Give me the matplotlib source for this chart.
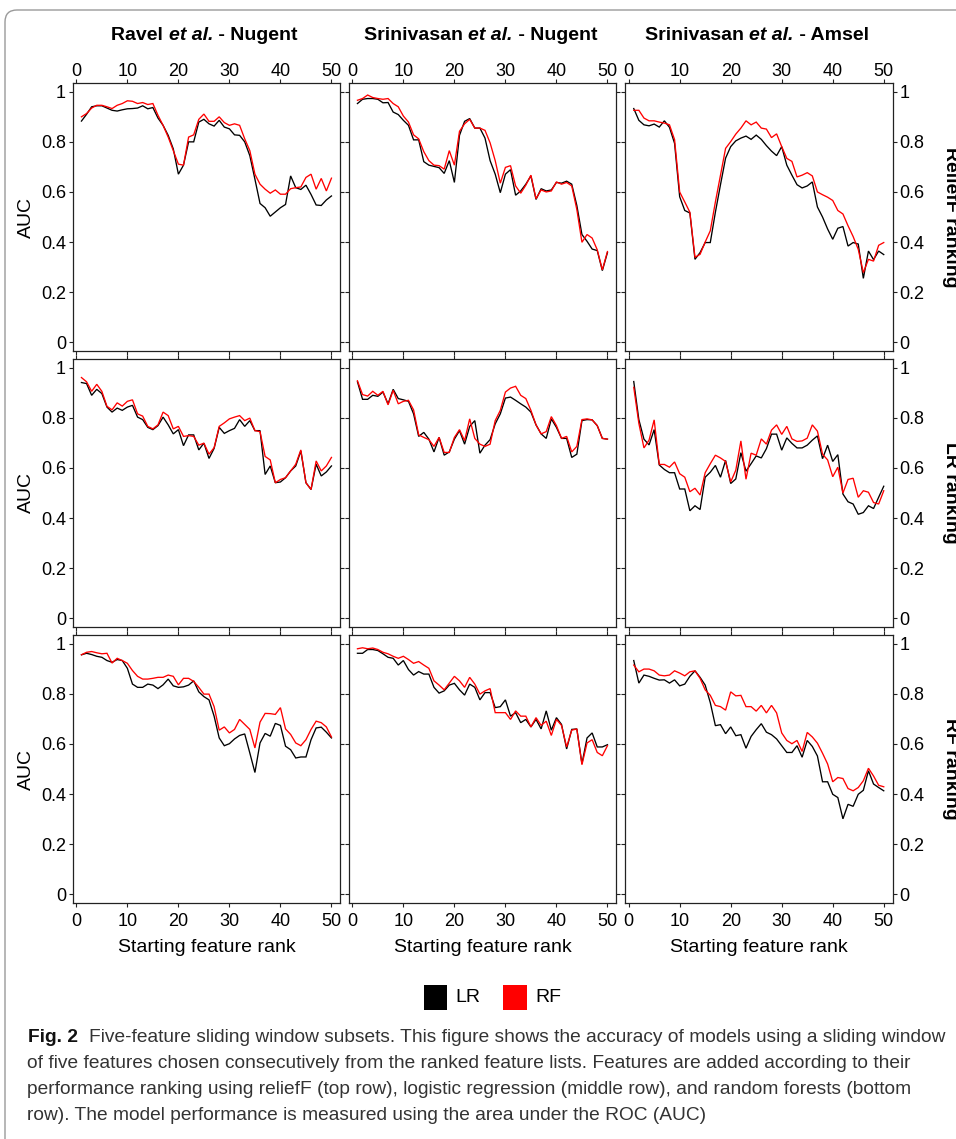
import matplotlib
matplotlib.use("Agg")
import matplotlib.pyplot as plt
from matplotlib.patches import FancyBboxPatch, Rectangle
from matplotlib.transforms import IdentityTransform

plt.rcParams['font.family'] = ['Liberation Sans', 'DejaVu Sans']

W, H, DPI = 956, 1139, 100

# ---------------- data ----------------
rank = list(range(1, 51))
xticks = [0, 10, 20, 30, 40, 50]
yticks = [0, 0.2, 0.4, 0.6, 0.8, 1]
ytick_labels = ["0", "0.2", "0.4", "0.6", "0.8", "1"]
col_titles = [("Ravel ", "et al.", " - Nugent"),
              ("Srinivasan ", "et al.", " - Nugent"),
              ("Srinivasan ", "et al.", " - Amsel")]
row_labels = ["ReliefF ranking", "LR ranking", "RF ranking"]
x_label = "Starting feature rank"
y_label = "AUC"
legend_labels = ["LR", "RF"]
series_colors = ["#000000", "#ff0000"]

# row 1: reliefF ranking
relief_ravel_lr = [0.883, 0.91, 0.94, 0.944, 0.944, 0.935, 0.926, 0.923, 0.928, 0.932,
                   0.933, 0.935, 0.944, 0.932, 0.937, 0.895, 0.866, 0.826, 0.772, 0.671,
                   0.707, 0.80, 0.80, 0.879, 0.89, 0.872, 0.863, 0.886, 0.859, 0.852,
                   0.828, 0.826, 0.80, 0.745, 0.651, 0.554, 0.537, 0.503, 0.52, 0.537,
                   0.55, 0.664, 0.617, 0.61, 0.627, 0.59, 0.548, 0.546, 0.568, 0.584]
relief_ravel_rf = [0.90, 0.913, 0.935, 0.946, 0.946, 0.94, 0.933, 0.946, 0.953, 0.964,
                   0.962, 0.953, 0.957, 0.949, 0.953, 0.906, 0.866, 0.819, 0.765, 0.711,
                   0.707, 0.819, 0.828, 0.89, 0.911, 0.882, 0.882, 0.90, 0.877, 0.866,
                   0.872, 0.866, 0.812, 0.765, 0.671, 0.631, 0.611, 0.595, 0.608, 0.591,
                   0.591, 0.613, 0.617, 0.62, 0.658, 0.671, 0.611, 0.654, 0.604, 0.655]
relief_srini_nugent_lr = [0.953, 0.97, 0.973, 0.973, 0.97, 0.956, 0.957, 0.919, 0.909, 0.886,
                          0.866, 0.808, 0.808, 0.721, 0.707, 0.702, 0.697, 0.674, 0.725, 0.638,
                          0.826, 0.882, 0.893, 0.855, 0.855, 0.815, 0.725, 0.671, 0.597, 0.671,
                          0.689, 0.587, 0.604, 0.631, 0.664, 0.570, 0.613, 0.604, 0.608, 0.638,
                          0.635, 0.643, 0.631, 0.546, 0.43, 0.403, 0.372, 0.366, 0.286, 0.358]
relief_srini_nugent_rf = [0.966, 0.973, 0.987, 0.977, 0.973, 0.97, 0.973, 0.953, 0.94, 0.903,
                          0.879, 0.828, 0.812, 0.761, 0.725, 0.707, 0.705, 0.691, 0.765, 0.707,
                          0.842, 0.872, 0.89, 0.855, 0.855, 0.846, 0.796, 0.725, 0.635, 0.698,
                          0.705, 0.624, 0.595, 0.627, 0.667, 0.573, 0.608, 0.60, 0.604, 0.64,
                          0.631, 0.638, 0.624, 0.53, 0.399, 0.43, 0.416, 0.369, 0.289, 0.362]
relief_srini_amsel_lr = [0.933, 0.886, 0.868, 0.864, 0.871, 0.859, 0.884, 0.858, 0.794, 0.581,
                         0.526, 0.516, 0.331, 0.358, 0.398, 0.398, 0.519, 0.629, 0.735, 0.781,
                         0.804, 0.815, 0.823, 0.81, 0.827, 0.81, 0.785, 0.763, 0.745, 0.781,
                         0.707, 0.667, 0.629, 0.616, 0.624, 0.64, 0.54, 0.50, 0.452, 0.411,
                         0.455, 0.462, 0.384, 0.398, 0.392, 0.255, 0.364, 0.33, 0.364, 0.35]
relief_srini_amsel_rf = [0.926, 0.926, 0.895, 0.884, 0.884, 0.879, 0.875, 0.868, 0.809, 0.60,
                         0.56, 0.519, 0.339, 0.351, 0.40, 0.445, 0.56, 0.667, 0.774, 0.801,
                         0.831, 0.855, 0.884, 0.868, 0.879, 0.855, 0.851, 0.817, 0.832, 0.781,
                         0.734, 0.722, 0.66, 0.667, 0.677, 0.664, 0.60, 0.589, 0.579, 0.566,
                         0.526, 0.512, 0.465, 0.422, 0.371, 0.278, 0.331, 0.324, 0.387, 0.398]

# row 2: LR ranking
lr_ravel_lr = [0.941, 0.937, 0.89, 0.914, 0.897, 0.843, 0.823, 0.839, 0.83, 0.843,
               0.85, 0.803, 0.793, 0.762, 0.753, 0.769, 0.803, 0.772, 0.736, 0.753,
               0.689, 0.732, 0.732, 0.672, 0.699, 0.638, 0.678, 0.762, 0.738, 0.749,
               0.758, 0.793, 0.766, 0.789, 0.749, 0.749, 0.574, 0.608, 0.541, 0.544,
               0.561, 0.588, 0.608, 0.668, 0.541, 0.514, 0.615, 0.568, 0.584, 0.608]
lr_ravel_rf = [0.961, 0.944, 0.906, 0.934, 0.906, 0.846, 0.832, 0.86, 0.847, 0.866,
               0.872, 0.816, 0.807, 0.766, 0.756, 0.772, 0.823, 0.809, 0.756, 0.766,
               0.726, 0.729, 0.726, 0.691, 0.699, 0.655, 0.681, 0.766, 0.78, 0.796,
               0.803, 0.809, 0.789, 0.799, 0.749, 0.745, 0.646, 0.632, 0.541, 0.554,
               0.561, 0.588, 0.615, 0.672, 0.541, 0.514, 0.628, 0.588, 0.608, 0.642]
lr_srini_nugent_lr = [0.944, 0.874, 0.874, 0.89, 0.886, 0.903, 0.856, 0.914, 0.877, 0.872,
                      0.866, 0.816, 0.726, 0.742, 0.715, 0.664, 0.722, 0.651, 0.664, 0.715,
                      0.749, 0.695, 0.766, 0.789, 0.659, 0.691, 0.713, 0.776, 0.816, 0.879,
                      0.883, 0.87, 0.856, 0.843, 0.823, 0.772, 0.736, 0.718, 0.796, 0.762,
                      0.718, 0.718, 0.642, 0.655, 0.789, 0.793, 0.792, 0.769, 0.718, 0.715]
lr_srini_nugent_rf = [0.948, 0.893, 0.887, 0.906, 0.89, 0.906, 0.852, 0.91, 0.856, 0.866,
                      0.87, 0.832, 0.732, 0.722, 0.713, 0.686, 0.722, 0.662, 0.662, 0.722,
                      0.753, 0.709, 0.796, 0.718, 0.695, 0.686, 0.695, 0.789, 0.83, 0.903,
                      0.919, 0.926, 0.89, 0.877, 0.83, 0.772, 0.736, 0.745, 0.805, 0.769,
                      0.718, 0.726, 0.664, 0.686, 0.793, 0.796, 0.792, 0.769, 0.718, 0.715]
lr_srini_amsel_lr = [0.945, 0.793, 0.715, 0.692, 0.753, 0.612, 0.594, 0.581, 0.581, 0.516,
                     0.516, 0.429, 0.449, 0.434, 0.563, 0.583, 0.61, 0.563, 0.63, 0.538,
                     0.556, 0.661, 0.587, 0.617, 0.648, 0.64, 0.677, 0.735, 0.735, 0.671,
                     0.72, 0.698, 0.68, 0.68, 0.691, 0.711, 0.728, 0.637, 0.691, 0.626,
                     0.653, 0.496, 0.465, 0.456, 0.415, 0.422, 0.449, 0.438, 0.483, 0.527]
lr_srini_amsel_rf = [0.922, 0.778, 0.68, 0.711, 0.792, 0.614, 0.614, 0.603, 0.624, 0.577,
                     0.563, 0.505, 0.519, 0.492, 0.581, 0.617, 0.651, 0.64, 0.626, 0.544,
                     0.591, 0.708, 0.555, 0.659, 0.651, 0.716, 0.695, 0.751, 0.772, 0.734,
                     0.766, 0.716, 0.706, 0.708, 0.719, 0.772, 0.747, 0.655, 0.632, 0.565,
                     0.603, 0.50, 0.554, 0.559, 0.483, 0.509, 0.503, 0.462, 0.456, 0.509]

# row 3: RF ranking
rf_ravel_lr = [0.956, 0.962, 0.957, 0.95, 0.946, 0.933, 0.926, 0.937, 0.933, 0.902,
               0.839, 0.826, 0.826, 0.839, 0.835, 0.821, 0.836, 0.859, 0.832, 0.826,
               0.828, 0.835, 0.852, 0.808, 0.789, 0.776, 0.711, 0.624, 0.593, 0.601,
               0.62, 0.634, 0.64, 0.564, 0.486, 0.604, 0.642, 0.631, 0.682, 0.674,
               0.591, 0.577, 0.544, 0.548, 0.548, 0.617, 0.664, 0.667, 0.647, 0.624]
rf_ravel_rf = [0.956, 0.966, 0.969, 0.964, 0.96, 0.962, 0.923, 0.942, 0.933, 0.922,
               0.893, 0.87, 0.859, 0.859, 0.862, 0.866, 0.866, 0.875, 0.87, 0.836,
               0.862, 0.862, 0.85, 0.826, 0.799, 0.799, 0.749, 0.655, 0.668, 0.644,
               0.658, 0.698, 0.678, 0.658, 0.584, 0.687, 0.722, 0.721, 0.718, 0.745,
               0.66, 0.638, 0.604, 0.593, 0.617, 0.658, 0.691, 0.685, 0.668, 0.628]
rf_srini_nugent_lr = [0.962, 0.962, 0.977, 0.977, 0.973, 0.96, 0.946, 0.942, 0.915, 0.933,
                      0.897, 0.875, 0.889, 0.879, 0.879, 0.826, 0.803, 0.812, 0.835, 0.842,
                      0.816, 0.795, 0.839, 0.826, 0.776, 0.805, 0.805, 0.745, 0.749, 0.776,
                      0.711, 0.725, 0.685, 0.698, 0.668, 0.698, 0.66, 0.732, 0.655, 0.705,
                      0.678, 0.58, 0.658, 0.66, 0.521, 0.624, 0.644, 0.588, 0.588, 0.597]
rf_srini_nugent_rf = [0.98, 0.984, 0.98, 0.983, 0.977, 0.966, 0.96, 0.95, 0.942, 0.95,
                      0.937, 0.922, 0.929, 0.915, 0.902, 0.852, 0.835, 0.816, 0.843, 0.87,
                      0.852, 0.826, 0.866, 0.839, 0.799, 0.812, 0.821, 0.725, 0.725, 0.725,
                      0.698, 0.732, 0.711, 0.711, 0.668, 0.705, 0.674, 0.691, 0.634, 0.698,
                      0.674, 0.588, 0.655, 0.66, 0.517, 0.604, 0.617, 0.566, 0.553, 0.593]
rf_srini_amsel_lr = [0.933, 0.843, 0.875, 0.87, 0.862, 0.855, 0.856, 0.843, 0.856, 0.832,
                     0.839, 0.87, 0.892, 0.866, 0.835, 0.765, 0.673, 0.677, 0.641, 0.668,
                     0.633, 0.637, 0.583, 0.63, 0.657, 0.681, 0.647, 0.637, 0.62, 0.593,
                     0.566, 0.566, 0.593, 0.547, 0.614, 0.59, 0.552, 0.449, 0.449, 0.399,
                     0.386, 0.301, 0.359, 0.351, 0.399, 0.415, 0.493, 0.44, 0.426, 0.413]
rf_srini_amsel_rf = [0.915, 0.888, 0.899, 0.899, 0.892, 0.875, 0.872, 0.875, 0.892, 0.883,
                     0.872, 0.888, 0.892, 0.862, 0.816, 0.794, 0.754, 0.749, 0.735, 0.808,
                     0.792, 0.794, 0.749, 0.749, 0.731, 0.754, 0.724, 0.754, 0.724, 0.644,
                     0.614, 0.601, 0.614, 0.57, 0.646, 0.628, 0.603, 0.563, 0.52, 0.449,
                     0.466, 0.462, 0.422, 0.413, 0.426, 0.453, 0.503, 0.472, 0.435, 0.429]

panels = [
    [(relief_ravel_lr, relief_ravel_rf), (relief_srini_nugent_lr, relief_srini_nugent_rf),
     (relief_srini_amsel_lr, relief_srini_amsel_rf)],
    [(lr_ravel_lr, lr_ravel_rf), (lr_srini_nugent_lr, lr_srini_nugent_rf),
     (lr_srini_amsel_lr, lr_srini_amsel_rf)],
    [(rf_ravel_lr, rf_ravel_rf), (rf_srini_nugent_lr, rf_srini_nugent_rf),
     (rf_srini_amsel_lr, rf_srini_amsel_rf)],
]

caption_bold = "Fig. 2"
caption_lines = [
    "Five-feature sliding window subsets. This figure shows the accuracy of models using a sliding window",
    "of five features chosen consecutively from the ranked feature lists. Features are added according to their",
    "performance ranking using reliefF (top row), logistic regression (middle row), and random forests (bottom",
    "row). The model performance is measured using the area under the ROC (AUC)",
]

# ---------------- layout (pixels) ----------------
col_left = [72.7, 348.7, 625.0]
row_top = [83.0, 359.0, 635.0]
pw, ph = 267.5, 268.0

fig = plt.figure(figsize=(W / DPI, H / DPI), dpi=DPI, facecolor="white")


def fx(x):
    return x / W


def fy(y):
    return 1 - y / H


TICK_LEN = 4 * 72 / DPI
x_pads = [-0.8, 1.5, 4.2]
for r in range(3):
    for c in range(3):
        ax = fig.add_axes([fx(col_left[c]), fy(row_top[r] + ph), pw / W, ph / H])
        lr, rf = panels[r][c]
        ax.plot(rank, lr, color=series_colors[0], lw=0.95, solid_joinstyle="miter")
        ax.plot(rank, rf, color=series_colors[1], lw=0.95, solid_joinstyle="miter")
        ax.set_xlim(-0.715, 51.715)
        ax.set_ylim(-0.035, 1.035)
        ax.set_xticks(xticks)
        ax.set_yticks(yticks)
        ax.set_yticklabels(ytick_labels)
        for s in ax.spines.values():
            s.set_color("#222222")
            s.set_linewidth(0.9)
        ax.tick_params(direction="out", length=TICK_LEN, width=0.8, color="#222222",
                       top=True, right=True, bottom=True, left=True,
                       labeltop=(r == 0), labelbottom=(r == 2),
                       labelleft=(c == 0), labelright=(c == 2),
                       labelsize=13)
        ax.tick_params(axis="x", pad=x_pads[r])
        ax.tick_params(axis="y", pad=2)
        if r == 2:
            fig.text(fx(col_left[c] + pw / 2), fy(947), x_label, ha="center", va="center",
                     fontsize=14)
    fig.text(fx(26), fy(row_top[r] + ph / 2), y_label, rotation=90, ha="center",
             va="center", fontsize=14)
    fig.text(fx(942), fy(row_top[r] + ph / 2), row_labels[r], rotation=-90, ha="left",
             va="center", fontsize=14, fontweight="bold")

renderer = fig.canvas.get_renderer()


def width_of(s, **kw):
    t = fig.text(0, 0, s, **kw)
    w = t.get_window_extent(renderer=renderer).width
    t.remove()
    return w


# column titles (bold, with bold-italic "et al.")
for c in range(3):
    parts = col_titles[c]
    styles = ["normal", "italic", "normal"]
    widths = [width_of(p, fontsize=14, fontweight="bold", fontstyle=s) for p, s in zip(parts, styles)]
    x0 = col_left[c] + pw / 2 - sum(widths) / 2 - 2
    for p, s, w in zip(parts, styles, widths):
        fig.text(fx(x0), fy(36), p, fontsize=14, fontweight="bold", fontstyle=s,
                 ha="left", va="center")
        x0 += w

# legend
leg = [(424, 447, 455), (503, 527, 535)]
for (x1, x2, xt), lab, colr in zip(leg, legend_labels, series_colors):
    fig.add_artist(Rectangle((x1, H - 1010), x2 - x1, 25, transform=IdentityTransform(),
                             facecolor=colr, edgecolor="none"))
    fig.text(fx(xt), fy(998), lab, ha="left", va="center", fontsize=14)

# caption
cap_fam = ["Liberation Sans Narrow", "Liberation Sans"]
fs0 = 12
wb = width_of(caption_bold + "  ", fontsize=fs0, fontweight="bold", family=cap_fam)
w1 = width_of(caption_lines[0], fontsize=fs0, family=cap_fam)
fs = fs0 * (950 - 28) / (wb + w1)
wb = width_of(caption_bold + "  ", fontsize=fs, fontweight="bold", family=cap_fam)
line_y = [1037, 1064, 1090, 1116]
fig.text(fx(28), fy(line_y[0]), caption_bold, fontsize=fs, fontweight="bold",
         family=cap_fam, ha="left", va="center", color="#111111")
fig.text(fx(28 + wb), fy(line_y[0]), caption_lines[0], fontsize=fs, family=cap_fam,
         ha="left", va="center", color="#333333")
for ln, yy in zip(caption_lines[1:], line_y[1:]):
    fig.text(fx(27), fy(yy), ln, fontsize=fs, family=cap_fam, ha="left", va="center",
             color="#333333")

# outer rounded frame
fig.add_artist(FancyBboxPatch((5, -60), 1100, H - 10 + 60,
                              boxstyle="round,pad=0,rounding_size=12",
                              transform=IdentityTransform(), facecolor="none",
                              edgecolor="#9a9a9a", linewidth=1.0))

fig.savefig("out.png", dpi=DPI, facecolor="white")
